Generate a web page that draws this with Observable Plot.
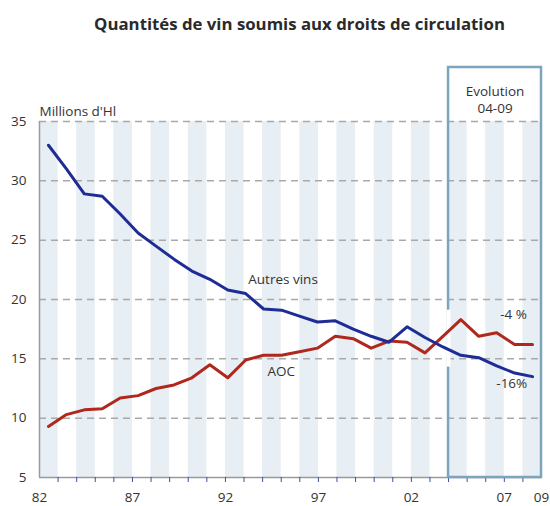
<!DOCTYPE html>
<html><head><meta charset="utf-8">
<script src="https://cdn.jsdelivr.net/npm/d3@7"></script>
<script src="https://cdn.jsdelivr.net/npm/@observablehq/plot@0.6"></script>
<style>body{margin:0;background:#fff}</style>
</head><body><div id="chart"></div>
<script>
const title = "Quantités de vin soumis aux droits de circulation";
const unitLabel = "Millions d'Hl";
const years = [1982,1983,1984,1985,1986,1987,1988,1989,1990,1991,1992,1993,1994,1995,1996,1997,1998,1999,2000,2001,2002,2003,2004,2005,2006,2007,2008,2009];
const autresVins = [33.0,31.0,28.9,28.7,27.2,25.6,24.5,23.4,22.4,21.7,20.8,20.5,19.2,19.1,18.6,18.1,18.2,17.5,16.9,16.4,17.7,16.8,16.0,15.3,15.1,14.4,13.8,13.5];
const aoc = [9.3,10.3,10.7,10.8,11.7,11.9,12.5,12.8,13.4,14.5,13.4,14.9,15.3,15.3,15.6,15.9,16.9,16.7,15.9,16.5,16.4,15.5,16.9,18.3,16.9,17.2,16.2,16.2];
const yTicks = [5,10,15,20,25,30,35];
const xTickLabels = [1982,1987,1992,1997,2002,2007,2009];
const bandYears = [1982,1983,1984,1985,1986,1987,1988,1989,1990,1991,1992,1993,1994,1995,1996,1997,1998,1999,2000,2001,2002,2003,2004,2005,2006,2007,2008];
const evolution = {from: 2004, to: 2009, lines: ["Evolution", "04-09"]};
const seriesLabels = [
  {text: "Autres vins", x: 1995.1, y: 21.65},
  {text: "AOC", x: 1995.0, y: 13.9},
  {text: "-4 %", x: 2007.5, y: 18.7},
  {text: "-16%", x: 2007.4, y: 12.9}
];

// secondary category axis for the series (28 slots across the 27-band axis)
const slot = d3.scaleBand().domain(years).range([1982, 2009]);
const xPos = y => slot(y) + slot.bandwidth() / 2;
const rowsBlue = years.map((y, i) => ({year: y, value: autresVins[i]}));
const rowsRed = years.map((y, i) => ({year: y, value: aoc[i]}));
const shaded = bandYears.filter((d, i) => i % 2 === 0);
const boundaryTicks = bandYears.slice(1);

const font = "'Open Sans', sans-serif";
const plot = Plot.plot({
  width: 550, height: 506,
  marginTop: 121, marginBottom: 29, marginLeft: 39, marginRight: 9,
  style: {fontFamily: font, fontSize: "13px", color: "#333", background: "#fff"},
  x: {domain: [1982, 2009], axis: null},
  y: {domain: [5, 35], axis: null},
  marks: [
    Plot.rect(shaded, {x1: d => d, x2: d => d + 1, y1: 5, y2: 35, fill: "#e7eef4"}),
    Plot.ruleY(yTicks.slice(1), {stroke: "#a9a9a9", strokeWidth: 1.5, strokeDasharray: "7,5"}),
    Plot.ruleX([1982], {y1: 5, y2: 35, stroke: "#9a9a9a", strokeWidth: 1.5}),
    Plot.ruleY([5], {stroke: "#9a9a9a", strokeWidth: 1.5}),
    Plot.axisX({ticks: boundaryTicks, tickSize: 5, tickFormat: () => "", stroke: "#3a4fb0", label: null}),
    Plot.axisX({ticks: xTickLabels, tickSize: 0, tickPadding: 15, tickFormat: d => String(d).slice(2), label: null, fontSize: 13.5, fill: "#333"}),
    Plot.axisY({ticks: yTicks, tickSize: 0, tickPadding: 13, label: null, fontSize: 13.5, fill: "#333"}),
    Plot.rect([evolution], {x1: "from", x2: "to", y1: 5, y2: 35, insetTop: -54, fill: "none", stroke: "#7ca5bd", strokeWidth: 2.5}),
    Plot.ruleX([evolution.from], {y1: 14.3, y2: 19.1, stroke: "#fff", strokeWidth: 4}),
    Plot.line(rowsRed, {x: d => xPos(d.year), y: "value", stroke: "#b0281c", strokeWidth: 3, strokeLinejoin: "round"}),
    Plot.line(rowsBlue, {x: d => xPos(d.year), y: "value", stroke: "#1e2c95", strokeWidth: 3, strokeLinejoin: "round"}),
    Plot.text(seriesLabels, {x: "x", y: "y", text: "text", fontSize: 13.5, fill: "#333"}),
    Plot.text([evolution], {x: d => (d.from + d.to) / 2, frameAnchor: "top", dy: -35, text: d => d.lines[0], fontSize: 13.5, fill: "#333"}),
    Plot.text([evolution], {x: d => (d.from + d.to) / 2, frameAnchor: "top", dy: -18, text: d => d.lines[1], fontSize: 13.5, fill: "#333"}),
    Plot.text([unitLabel], {frameAnchor: "top-left", dy: -15, textAnchor: "start", fontSize: 13.5, fill: "#333"}),
    Plot.text([title], {frameAnchor: "top", dx: 9, dy: -103, fontSize: 16.8, fontWeight: "bold", fill: "#2a2a2a"})
  ]
});
document.getElementById("chart").appendChild(plot);
</script>
</body></html>
